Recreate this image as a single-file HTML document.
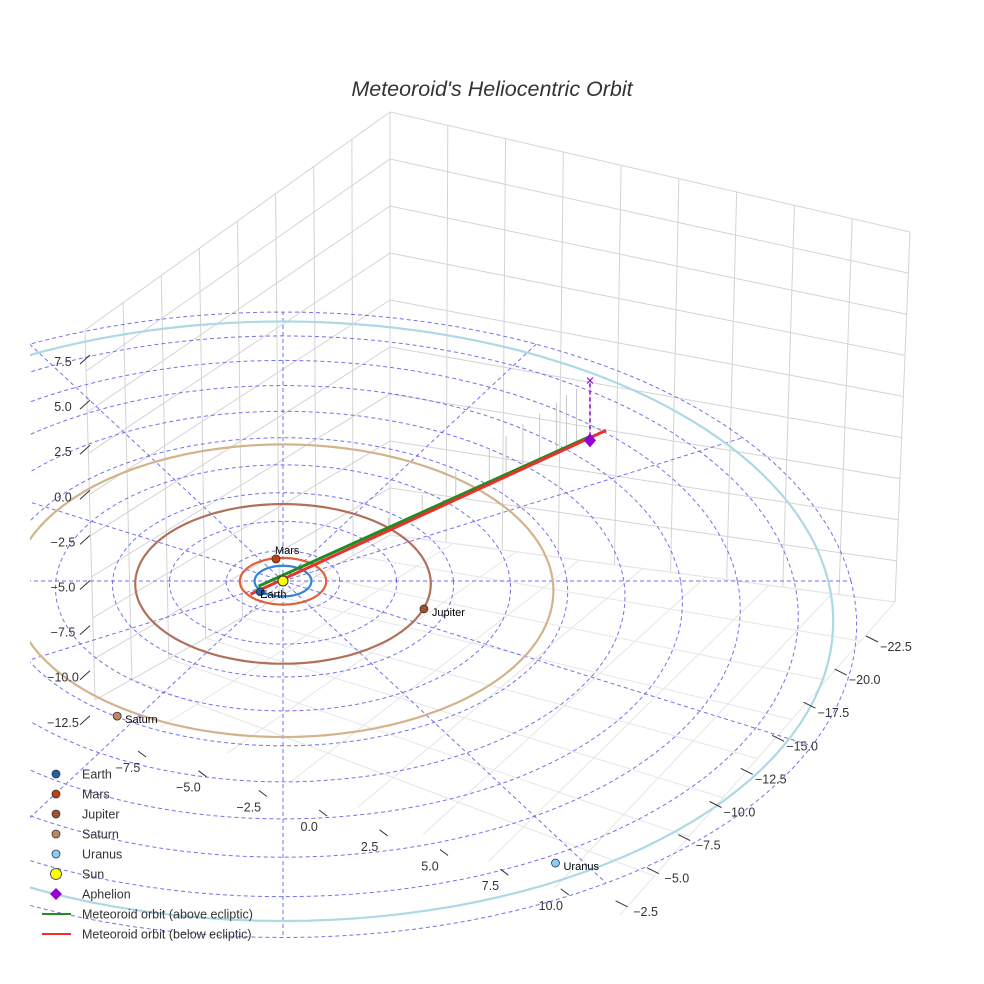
<!DOCTYPE html>
<html><head><meta charset="utf-8"><style>
body{margin:0;background:#fff}
svg{display:block;font-family:"Liberation Sans",sans-serif}
</style></head><body>
<svg id="c" width="984" height="984" viewBox="0 0 984 984">
<defs><clipPath id="scene"><rect x="30" y="0" width="954" height="984"/></clipPath></defs>
<rect width="984" height="984" fill="#fff"/>
<text x="492" y="96" text-anchor="middle" font-size="21.5" font-style="italic" fill="#333">Meteoroid's Heliocentric Orbit</text>
<g clip-path="url(#scene)"><g id="box"></g><g id="rings"></g><g id="orbits"></g><g id="met"></g><g id="pts"></g></g><g id="ticks"></g><g id="legend"></g>
</svg>
<script>
const zTicks=["7.5","5.0","2.5","0.0","−2.5","−5.0","−7.5","−10.0","−12.5"];
const xTicks=["−7.5","−5.0","−2.5","0.0","2.5","5.0","7.5","10.0"];
const yTicks=["−22.5","−20.0","−17.5","−15.0","−12.5","−10.0","−7.5","−5.0","−2.5"];
const planetNames=["Earth","Mars","Jupiter","Saturn","Uranus"];
const planetRadii=[1.0,1.52,5.2,9.5,19.2];
const planetU=[-0.8,-0.25,4.9,-5.5,8.5];
const planetV=[-0.7,1.45,-1.8,-8.3,-16.3];
const ringRadii=[2,4,6,8,10,12,14,16,18,20];
const radialAngles=[0,30,60,90,120,150,180,210,240,270,300,330];
const orbitT=[0.3,0.4,0.5,0.6,0.7,0.75,0.8,0.85,0.9,0.93,0.96,1.0];
const dropHeights=[0.3,0.8,1.3,1.8,2.3,2.6,2.9,3.1,3.3,3.5,3.6,3.7];
const aphelionU=11.55, aphelionV=9.8, periU=-1.0, periV=-0.6;
const colors=["#2e86d4","#e0603a","#b0705a","#d2b48c","#add8e6"];
const mcolors=["#1f5fa8","#c0400f","#a0522d","#c08660","#87cefa"];
const NS="http://www.w3.org/2000/svg";
function el(t,a,p){const e=document.createElementNS(NS,t);for(const k in a)e.setAttribute(k,a[k]);document.getElementById(p).appendChild(e);return e;}
function P(u,v){const s=1/(1+0.007*v);return [283+28.4*u*s,581-15.33*v*s];}
function ellPath(r){let d="";for(let i=0;i<=160;i++){const a=i/160*2*Math.PI;const q=P(r*Math.cos(a),r*Math.sin(a));d+=(i?"L":"M")+q[0].toFixed(1)+","+q[1].toFixed(1);}return d;}
function lerp(a,b,t){return [a[0]+(b[0]-a[0])*t,a[1]+(b[1]-a[1])*t];}
const Lt=[85,330],Bt=[390,112],Rt=[910,232],Lb=[95,700],Bb=[390,535],Rb=[895,602];
for(let i=0;i<=8;i++){const t=i/8;const a=lerp(Lt,Bt,t),b=lerp(Lb,Bb,t);
 const g=el("line",{x1:a[0],y1:a[1],x2:b[0],y2:b[1],stroke:"#d4d4d4","stroke-width":1},"box");
 
 }
for(let i=0;i<=9;i++){const t=i/9;const a=lerp(Bt,Rt,t),b=lerp(Bb,Rb,t);
 const g=el("line",{x1:a[0],y1:a[1],x2:b[0],y2:b[1],stroke:"#d4d4d4","stroke-width":1},"box");
 
 }
for(let i=0;i<=9;i++){const t=i/9;const a=lerp(Lt,Lb,t),b=lerp(Bt,Bb,t),c=lerp(Rt,Rb,t);
 const g=el("polyline",{points:a+" "+b+" "+c,fill:"none",stroke:"#d4d4d4","stroke-width":1},"box");
 
 }
const Fb=[620,915];
for(let i=1;i<=8;i++){const t=i/8;const a=lerp(Lb,Bb,t),b=lerp(Fb,Rb,t);
 const g=el("line",{x1:a[0],y1:a[1],x2:b[0],y2:b[1],stroke:"#e6e6e6","stroke-width":1},"box");
 
 }
for(let i=1;i<=8;i++){const t=i/8;const a=lerp(Bb,Rb,t),b=lerp(Lb,Fb,t);
 const g=el("line",{x1:a[0],y1:a[1],x2:b[0],y2:b[1],stroke:"#e6e6e6","stroke-width":1},"box");
 
 }
ringRadii.forEach(r=>{const g=el("path",{d:ellPath(r),fill:"none",stroke:"#5a5ae6","stroke-width":1,"stroke-dasharray":"4,3",opacity:0.85},"rings");
 
 });
radialAngles.forEach(a=>{const r=a*Math.PI/180;const q=P(20*Math.cos(r),20*Math.sin(r));const o=P(0,0);
 const g=el("line",{x1:o[0],y1:o[1],x2:q[0],y2:q[1],stroke:"#5a5ae6","stroke-width":1,"stroke-dasharray":"4,3",opacity:0.85},"rings");
 
 });
planetRadii.forEach((r,i)=>{const g=el("path",{d:ellPath(r),fill:"none",stroke:colors[i],"stroke-width":2.2},"orbits");
 
 });
const pa=P(periU,periV),ap=P(aphelionU,aphelionV);
orbitT.forEach((t,i)=>{const q=lerp(pa,ap,t);const h=dropHeights[i]*16;
 const g=el("line",{x1:q[0],y1:q[1],x2:q[0],y2:q[1]-h,stroke:"#c8c8c8","stroke-width":1},"met");
 
 });
let g=el("line",{x1:pa[0]+4,y1:pa[1]-4,x2:ap[0]-2,y2:ap[1]-3,stroke:"#228b22","stroke-width":3},"met");


g=el("line",{x1:pa[0]-4,y1:pa[1]+4,x2:ap[0]+16,y2:ap[1]-10,stroke:"#e8312a","stroke-width":3},"met");


g=el("line",{x1:ap[0],y1:ap[1]-4,x2:ap[0],y2:ap[1]-58,stroke:"#9400d3","stroke-width":1.5,"stroke-dasharray":"4,3"},"met");


g=el("text",{x:ap[0],y:ap[1]-55,"text-anchor":"middle","font-size":15,fill:"#9400d3"},"met");
g.textContent="×";


g=el("path",{d:`M${ap[0]},${ap[1]-7}L${ap[0]+6},${ap[1]}L${ap[0]},${ap[1]+7}L${ap[0]-6},${ap[1]}Z`,fill:"#9400d3"},"met");


planetNames.forEach((n,i)=>{const q=P(planetU[i],planetV[i]);
 const c=el("circle",{cx:q[0],cy:q[1],r:4,fill:mcolors[i],stroke:"#333","stroke-width":0.8},"pts");
 
 
 const off=n==="Mars"?[-1,-5]:n==="Earth"?[0,6]:[8,7];
 const t=el("text",{x:q[0]+off[0],y:q[1]+off[1],"font-size":11,fill:"#000"},"pts");
 t.textContent=n;
 
 });
const so=P(0,0);
g=el("circle",{cx:so[0],cy:so[1],r:5,fill:"#ffff00",stroke:"#333","stroke-width":1},"pts");


zTicks.forEach((s,i)=>{const y=361+i*45.1;
 const t=el("text",{x:63,y:y+5,"text-anchor":"middle","font-size":12.5,fill:"#333"},"ticks");t.textContent=s;
 
 
 const l=el("line",{x1:80,y1:y+3,x2:90,y2:y-6,stroke:"#333","stroke-width":1},"ticks");
 
 });
xTicks.forEach((s,i)=>{const x=128+i*60.4,y=767+i*19.7;
 const t=el("text",{x:x,y:y+5,"text-anchor":"middle","font-size":12.5,fill:"#333"},"ticks");t.textContent=s;
 
 
 const l=el("line",{x1:x+10,y1:y-16,x2:x+18,y2:y-10,stroke:"#333","stroke-width":1},"ticks");
 
 });
yTicks.forEach((s,i)=>{const x=896-i*31.3,y=646+i*33.1;
 const t=el("text",{x:x,y:y+5,"text-anchor":"middle","font-size":12.5,fill:"#333"},"ticks");t.textContent=s;
 
 
 const l=el("line",{x1:x-30,y1:y-10,x2:x-18,y2:y-4,stroke:"#333","stroke-width":1},"ticks");
 
 });
const legNames=["Earth","Mars","Jupiter","Saturn","Uranus","Sun","Aphelion","Meteoroid orbit (above ecliptic)","Meteoroid orbit (below ecliptic)"];
legNames.forEach((n,i)=>{const y=774+i*20;let m;
 if(i<5){m=el("circle",{cx:56,cy:y,r:4,fill:mcolors[i],stroke:"#333","stroke-width":0.8},"legend");}
 else if(i===5){m=el("circle",{cx:56,cy:y,r:5.5,fill:"#ffff00",stroke:"#333","stroke-width":0.8},"legend");}
 else if(i===6){m=el("path",{d:`M56,${y-6}L62,${y}L56,${y+6}L50,${y}Z`,fill:"#9400d3"},"legend");}
 else{m=el("line",{x1:42,y1:y,x2:71,y2:y,stroke:i===7?"#228b22":"#e8312a","stroke-width":2},"legend");}
 
 
 const t=el("text",{x:82,y:y+4.5,"font-size":12.5,fill:"#333"},"legend");t.textContent=n;
 
 });
</script>
</body></html>
